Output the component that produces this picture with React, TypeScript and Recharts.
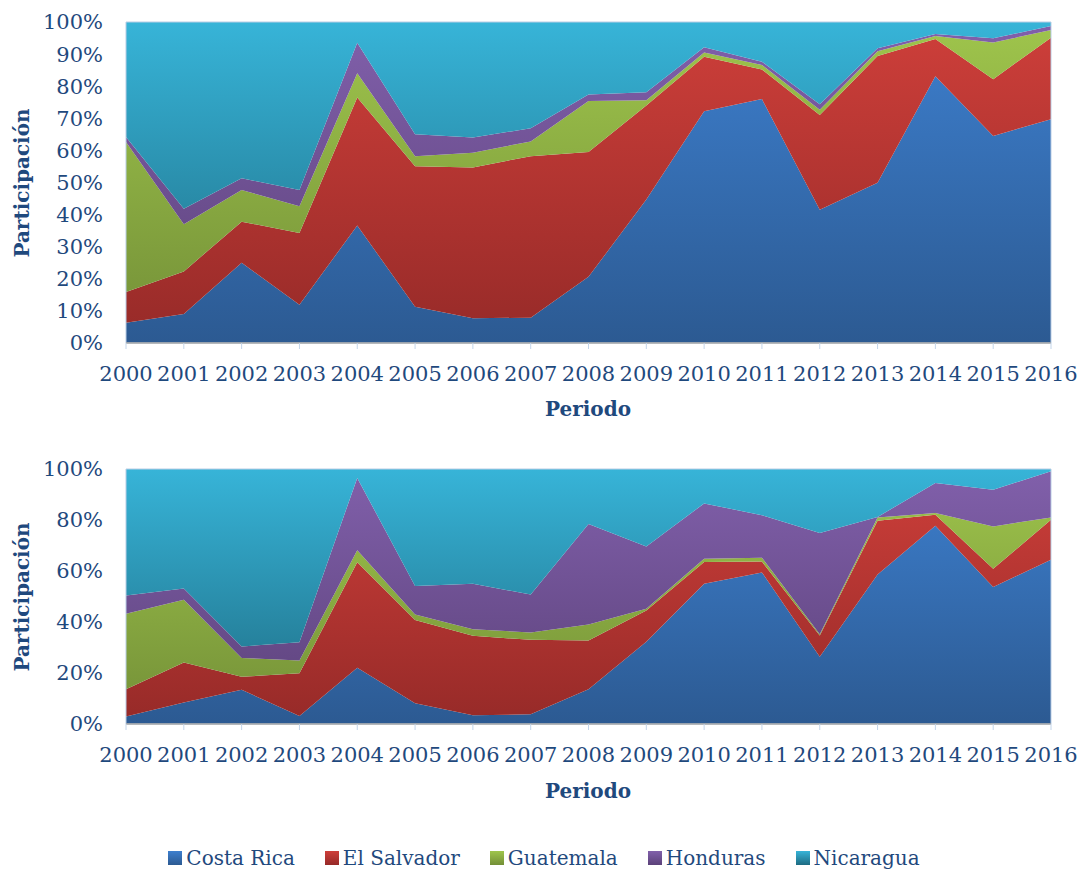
import {
  AreaChart,
  Area,
  XAxis,
  YAxis,
  ReferenceArea,
} from "recharts";

const years = [
  "2000", "2001", "2002", "2003", "2004", "2005", "2006", "2007", "2008",
  "2009", "2010", "2011", "2012", "2013", "2014", "2015", "2016",
];

// top chart (shares, %)
const costaRicaTop = [6.3, 9, 25, 11.9, 36.6, 11.3, 7.7, 7.9, 20.6, 44.7, 72.2, 76, 41.5, 49.9, 83.1, 64.5, 69.7];
const elSalvadorTop = [9.6, 13.3, 12.8, 22.4, 39.9, 43.8, 47, 50.3, 38.9, 29.3, 17, 9.2, 29.5, 39.5, 11.6, 17.7, 25.4];
const guatemalaTop = [46.7, 14.7, 9.9, 8.3, 7.5, 3.1, 4.6, 4.6, 15.9, 1.6, 1.3, 1.4, 1.7, 1.5, 0.9, 11.4, 2.4];
const hondurasTop = [1.6, 4.8, 3.6, 5.1, 9.5, 6.8, 4.7, 4.1, 2, 2.5, 1.6, 1, 1.7, 0.9, 0.65, 1.3, 1.25];
const nicaraguaTop = [35.8, 58.2, 48.7, 52.3, 6.5, 35, 36, 33.1, 22.6, 21.9, 7.9, 12.4, 25.6, 8.2, 3.75, 5.1, 1.25];

// bottom chart (shares, %)
const costaRicaBottom = [2.9, 8.4, 13.4, 3.1, 22.1, 8.1, 3.4, 3.8, 13.6, 32.3, 55, 59.4, 26.4, 58.6, 77.7, 53.7, 64.4];
const elSalvadorBottom = [10.7, 15.7, 5.1, 16.8, 41.3, 32.7, 31.2, 29.2, 19.1, 12.2, 8.5, 4.3, 8.3, 21.1, 4.4, 7.2, 15.7];
const guatemalaBottom = [29.6, 24.6, 7.4, 5, 4.7, 2.1, 2.6, 2.9, 6.3, 0.7, 1.3, 1.5, 0.5, 1.3, 0.6, 16.6, 0.9];
const hondurasBottom = [7.2, 4.4, 4.5, 7.2, 28.4, 11.2, 17.8, 14.9, 39.4, 24.4, 21.7, 16.7, 39.7, 0.2, 11.8, 14.4, 18.1];
const nicaraguaBottom = [49.6, 46.9, 69.6, 67.9, 3.5, 45.9, 45, 49.2, 21.6, 30.4, 13.5, 18.1, 25.1, 18.8, 5.5, 8.1, 0.9];

const ticksTop = [0, 0.1, 0.2, 0.3, 0.4, 0.5, 0.6, 0.7, 0.8, 0.9, 1];
const ticksBottom = [0, 0.2, 0.4, 0.6, 0.8, 1];

const countries = [
  { key: "cr", name: "Costa Rica", top: "#3D7FCE", bottom: "#2C5A92" },
  { key: "sv", name: "El Salvador", top: "#CE3F3A", bottom: "#962A28" },
  { key: "gt", name: "Guatemala", top: "#9FC54C", bottom: "#738F37" },
  { key: "hn", name: "Honduras", top: "#8160AB", bottom: "#5B4179" },
  { key: "ni", name: "Nicaragua", top: "#37B4D8", bottom: "#1E6B82" },
];

const FONT = "'DejaVu Serif', serif";
const TEXT = "#1F497D";

function buildRows(cr: number[], sv: number[], gt: number[], hn: number[], ni: number[]) {
  return years.map((year, i) => ({
    year,
    cr: cr[i],
    sv: sv[i],
    gt: gt[i],
    hn: hn[i],
    ni: ni[i],
  }));
}

const dataTop = buildRows(costaRicaTop, elSalvadorTop, guatemalaTop, hondurasTop, nicaraguaTop);
const dataBottom = buildRows(costaRicaBottom, elSalvadorBottom, guatemalaBottom, hondurasBottom, nicaraguaBottom);

interface PanelProps {
  id: string;
  data: ReturnType<typeof buildRows>;
  ticks: number[];
  height: number;
  marginTop: number;
  axisHeight: number;
}

function Panel({ id, data, ticks, height, marginTop, axisHeight }: PanelProps) {
  const plotTop = marginTop;
  const plotBottom = height - axisHeight;
  return (
    <AreaChart
      width={1082}
      height={height}
      data={data}
      stackOffset="expand"
      margin={{ top: marginTop, right: 31, bottom: 0, left: 0 }}
    >
      <defs>
        {countries.map((c) => (
          <linearGradient
            key={c.key}
            id={`${id}-${c.key}`}
            gradientUnits="userSpaceOnUse"
            x1={0}
            y1={plotTop}
            x2={0}
            y2={plotBottom}
          >
            <stop offset="0%" stopColor={c.top} />
            <stop offset="100%" stopColor={c.bottom} />
          </linearGradient>
        ))}
      </defs>
      <XAxis
        dataKey="year"
        height={axisHeight}
        interval={0}
        axisLine={{ stroke: "#A9A9A9", strokeWidth: 1.5 }}
        tickLine={{ stroke: "#C3D5EA" }}
        tickSize={6}
        tickMargin={17}
        tick={{ fill: TEXT, fontSize: 21, fontFamily: FONT }}
      />
      <YAxis
        width={126}
        ticks={ticks}
        domain={[0, 1]}
        axisLine={false}
        tickLine={false}
        tickSize={6}
        tickMargin={17}
        tickFormatter={(v: number) => `${Math.round(v * 100)}%`}
        tick={{ fill: TEXT, fontSize: 21, fontFamily: FONT }}
      />
      {countries.map((c) => (
        <Area
          key={c.key}
          type="linear"
          dataKey={c.key}
          name={c.name}
          stackId="1"
          stroke="none"
          fill={`url(#${id}-${c.key})`}
          fillOpacity={1}
          isAnimationActive={false}
        />
      ))}
      <ReferenceArea
        x1="2000"
        x2="2016"
        y1={0}
        y2={1}
        fill="none"
        stroke="#B9CDE5"
        ifOverflow="visible"
      />
    </AreaChart>
  );
}

const titleStyle: React.CSSProperties = {
  position: "absolute",
  fontFamily: FONT,
  fontWeight: "bold",
  fontSize: 20,
  color: TEXT,
  whiteSpace: "nowrap",
  transform: "translate(-50%, -50%)",
};

const yTitleStyle: React.CSSProperties = {
  ...titleStyle,
  transform: "translate(-50%, -50%) rotate(-90deg)",
};

export default function App() {
  return (
    <div
      style={{
        position: "absolute",
        left: 0,
        top: 0,
        width: 1082,
        height: 870,
        background: "#fff",
        overflow: "hidden",
      }}
    >
      <div style={{ position: "absolute", left: 0, top: 0 }}>
        <Panel id="top" data={dataTop} ticks={ticksTop} height={430} marginTop={22} axisHeight={87} />
      </div>
      <div style={{ position: "absolute", left: 0, top: 440 }}>
        <Panel id="bot" data={dataBottom} ticks={ticksBottom} height={370} marginTop={29} axisHeight={86} />
      </div>

      <div style={{ ...yTitleStyle, left: 22, top: 183 }}>Participación</div>
      <div style={{ ...titleStyle, left: 588, top: 409 }}>Periodo</div>
      <div style={{ ...yTitleStyle, left: 22, top: 597 }}>Participación</div>
      <div style={{ ...titleStyle, left: 588, top: 791 }}>Periodo</div>

      <div
        style={{
          position: "absolute",
          left: 0,
          top: 846,
          width: 1088,
          display: "flex",
          justifyContent: "center",
          gap: 30,
          fontFamily: FONT,
          fontSize: 20,
          color: TEXT,
          lineHeight: "24px",
        }}
      >
        {countries.map((c) => (
          <div key={c.key} style={{ display: "flex", alignItems: "center", gap: 4 }}>
            <span
              style={{
                display: "inline-block",
                width: 14,
                height: 14,
                background: `linear-gradient(${c.top}, ${c.bottom})`,
              }}
            />
            <span>{c.name}</span>
          </div>
        ))}
      </div>
    </div>
  );
}
